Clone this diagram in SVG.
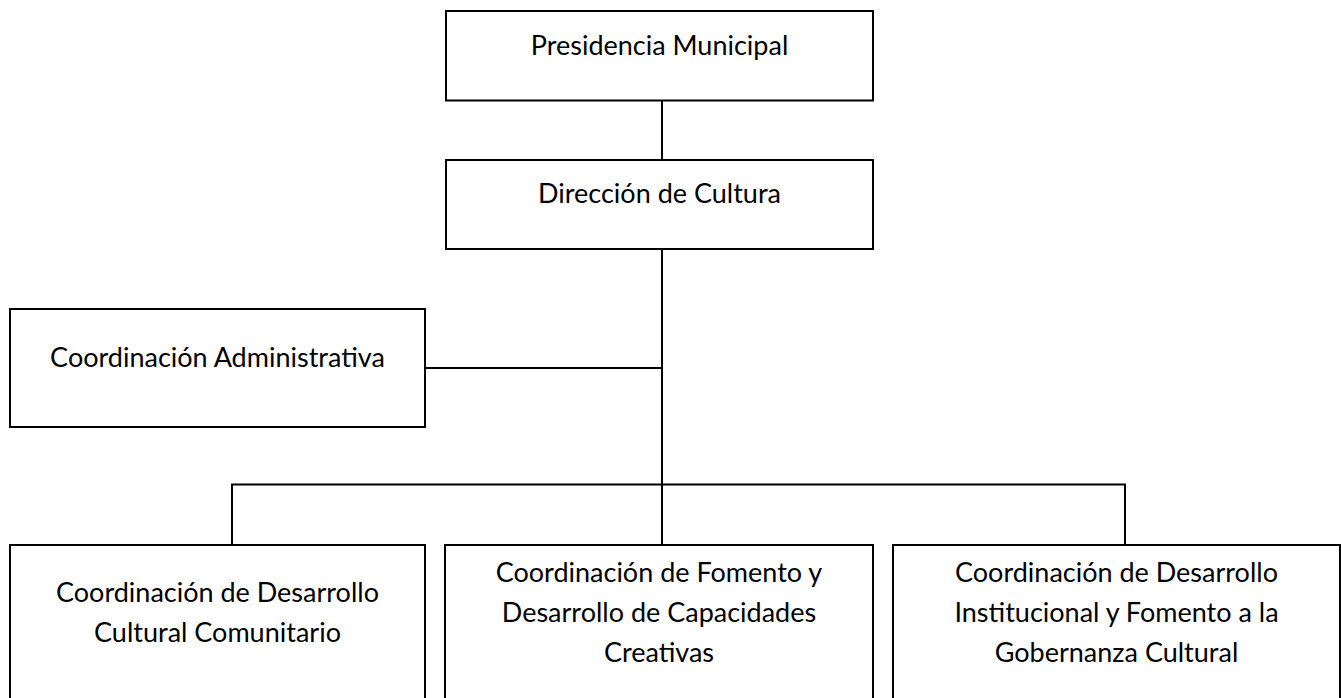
<svg xmlns="http://www.w3.org/2000/svg" width="1341" height="698" viewBox="0 0 1341 698">
<style>
.box{fill:#fff;stroke:#000;stroke-width:2}
.lbl{font-family:Lato,"Liberation Sans",sans-serif;font-size:27px;fill:#000;text-anchor:middle}
.conn line{stroke:#000;stroke-width:2}
</style>
<rect width="1341" height="698" fill="#fff"/>
<g class="conn" id="connectors">
<line x1="662" y1="100" x2="662" y2="160"/>
<line x1="662" y1="249" x2="662" y2="545"/>
<line x1="425" y1="368" x2="662" y2="368"/>
<line x1="231" y1="484.5" x2="1126" y2="484.5"/>
<line x1="232" y1="484.5" x2="232" y2="545"/>
<line x1="1125" y1="484.5" x2="1125" y2="545"/>
</g>
<g id="presidencia">
<rect class="box" x="446" y="11" width="427" height="89.5"/>
<text class="lbl" x="659.5" y="55">Presidencia Municipal</text>
</g>
<g id="direccion">
<rect class="box" x="446" y="160" width="427" height="89"/>
<text class="lbl" x="659.5" y="203">Dirección de Cultura</text>
</g>
<g id="administrativa">
<rect class="box" x="10" y="309" width="415" height="118"/>
<text class="lbl" x="217.5" y="367">Coordinación Administrativa</text>
</g>
<g id="comunitario">
<rect class="box" x="10" y="545" width="415" height="170"/>
<text class="lbl" x="217.5" y="601.7">Coordinación de Desarrollo</text>
<text class="lbl" x="217.5" y="641.7">Cultural Comunitario</text>
</g>
<g id="creativas">
<rect class="box" x="445" y="545" width="428" height="170"/>
<text class="lbl" x="659" y="581.7">Coordinación de Fomento y</text>
<text class="lbl" x="659" y="621.7">Desarrollo de Capacidades</text>
<text class="lbl" x="659" y="661.7">Creativas</text>
</g>
<g id="gobernanza">
<rect class="box" x="893" y="545" width="447" height="170"/>
<text class="lbl" x="1116.5" y="581.7">Coordinación de Desarrollo</text>
<text class="lbl" x="1116.5" y="621.7">Institucional y Fomento a la</text>
<text class="lbl" x="1116.5" y="661.7">Gobernanza Cultural</text>
</g>
</svg>
